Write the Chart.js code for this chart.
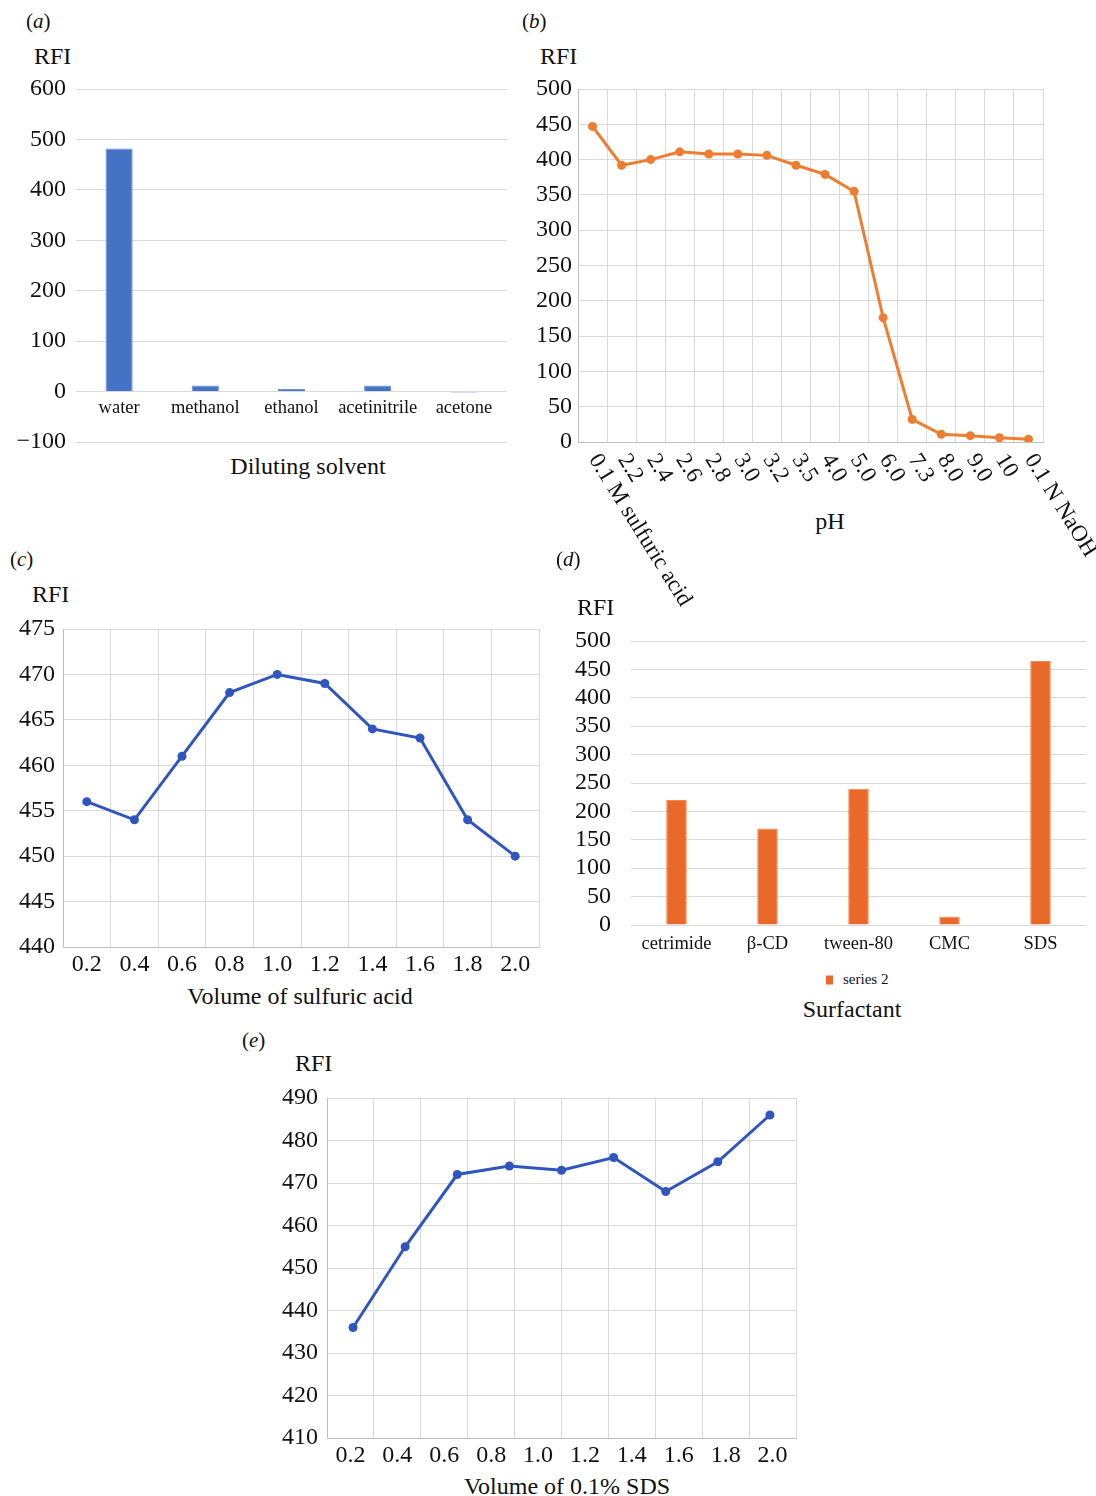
<!DOCTYPE html>
<html>
<head>
<meta charset="utf-8">
<script src="https://cdn.jsdelivr.net/npm/chart.js@4.4.1/dist/chart.umd.min.js"></script>
<style>
  html, body { margin: 0; padding: 0; background: #fff; width: 1096px; height: 1496px; overflow: hidden; }
  body { position: relative; font-family: "Liberation Serif", "Times New Roman", serif; color: #111; }
  canvas { position: absolute; display: block; }
  .t { position: absolute; white-space: nowrap; line-height: 1; transform: translateY(-50%); }
  .mid { transform: translate(-50%, -50%); }
  .panel { font-size: 21px; }
  .rfi { font-size: 24px; }
  .ttl { font-size: 24px; }
  .legend { position: absolute; font-size: 15px; line-height: 1; white-space: nowrap; transform: translateY(-50%); }
  .legend i { display: inline-block; width: 7px; height: 9px; background: #E8692A; margin-right: 10px; vertical-align: -1px; }
</style>
</head>
<body>

<div class="t panel" style="left:26px; top:21px;">(<i>a</i>)</div>
<div class="t rfi" style="left:34px; top:56px;">RFI</div>
<div class="t ttl mid" style="left:308px; top:466px;">Diluting solvent</div>
<canvas id="chartA" width="520" height="407" style="left:0px; top:60px;"></canvas>

<div class="t panel" style="left:522px; top:21px;">(<i>b</i>)</div>
<div class="t rfi" style="left:540px; top:56px;">RFI</div>
<div class="t ttl mid" style="left:830px; top:521px;">pH</div>
<canvas id="chartB" width="571" height="560" style="left:525px; top:60px;"></canvas>

<div class="t panel" style="left:10px; top:559px;">(<i>c</i>)</div>
<div class="t rfi" style="left:32px; top:594px;">RFI</div>
<div class="t ttl mid" style="left:300px; top:996px;">Volume of sulfuric acid</div>
<canvas id="chartC" width="550" height="380" style="left:0px; top:600px;"></canvas>

<div class="t panel" style="left:556px; top:559px;">(<i>d</i>)</div>
<div class="t rfi" style="left:577px; top:607px;">RFI</div>
<div class="legend" id="legendD" style="left:826px; top:979px;"><i></i><span></span></div>
<div class="t ttl mid" style="left:852px; top:1009px;">Surfactant</div>
<canvas id="chartD" width="541" height="355" style="left:555px; top:606px;"></canvas>

<div class="t panel" style="left:242px; top:1040px;">(<i>e</i>)</div>
<div class="t rfi" style="left:295px; top:1063px;">RFI</div>
<div class="t ttl mid" style="left:567px; top:1486px;">Volume of 0.1% SDS</div>
<canvas id="chartE" width="570" height="396" style="left:240px; top:1074px;"></canvas>

<script>
// ---- data ----
const solvents = ['water', 'methanol', 'ethanol', 'acetinitrile', 'acetone'];
const solventRFI = [482, 12, 5, 12, -2];

const phLabels = ['0.1 M sulfuric acid', '2.2', '2.4', '2.6', '2.8', '3.0', '3.2', '3.5',
                  '4.0', '5.0', '6.0', '7.3', '8.0', '9.0', '10', '0.1 N NaOH'];
const phRFI = [447, 392, 400, 411, 408, 408, 406, 392, 379, 355, 176, 32, 11, 9, 6, 4];

const acidVolumes = ['0.2', '0.4', '0.6', '0.8', '1.0', '1.2', '1.4', '1.6', '1.8', '2.0'];
const acidRFI = [456, 454, 461, 468, 470, 469, 464, 463, 454, 450];

const surfactants = ['cetrimide', 'β-CD', 'tween-80', 'CMC', 'SDS'];
const surfactantRFI = [220, 170, 240, 15, 465];

const sdsVolumes = ['0.2', '0.4', '0.6', '0.8', '1.0', '1.2', '1.4', '1.6', '1.8', '2.0'];
const sdsRFI = [436, 455, 472, 474, 473, 476, 468, 475, 486];
const sdsRuns = ['1', '2', '3', '4', '5', '6', '7', '8', '9'];

// ---- shared styling ----
const SERIF = '"Liberation Serif", "Times New Roman", serif';
const INK = '#111111';
const GRID = '#d9d9d9';
const AXIS = '#bfbfbf';
const BLUE_BAR = '#4472C4';
const ORANGE_LINE = '#ED7D31';
const ORANGE_BAR = '#E8692A';
const BLUE_LINE = '#2F55BF';

Chart.defaults.font.family = SERIF;
Chart.defaults.color = INK;
Chart.defaults.animation = false;
Chart.defaults.responsive = false;
Chart.defaults.plugins.legend.display = false;
Chart.defaults.plugins.tooltip.enabled = false;

const fixWidth = w => scale => { scale.width = w; };
const fixHeight = h => scale => { scale.height = h; };
const minusSign = v => String(v).replace('-', '\u2212');

// category names sitting just under the zero line
const zeroLineLabels = {
  id: 'zeroLineLabels',
  afterDraw(chart) {
    const { ctx, scales: { x, y } } = chart;
    const base = y.getPixelForValue(0);
    ctx.save();
    ctx.font = '18.5px ' + SERIF;
    ctx.fillStyle = INK;
    ctx.textAlign = 'center';
    ctx.textBaseline = 'middle';
    chart.data.labels.forEach((lab, i) => ctx.fillText(lab, x.getPixelForValue(i), base + 17));
    ctx.restore();
  }
};

// category names slanting down to the right from each tick
const slantedLabels = {
  id: 'slantedLabels',
  afterDraw(chart) {
    const { ctx, chartArea, scales: { x } } = chart;
    ctx.save();
    ctx.font = '23px ' + SERIF;
    ctx.fillStyle = INK;
    ctx.textAlign = 'left';
    ctx.textBaseline = 'middle';
    chart.data.labels.forEach((lab, i) => {
      ctx.save();
      ctx.translate(x.getPixelForValue(i) + 1, chartArea.bottom + 14);
      ctx.rotate(58 * Math.PI / 180);
      ctx.fillText(lab, 0, 0);
      ctx.restore();
    });
    ctx.restore();
  }
};

const yTicks = (step, pad) => ({ stepSize: step, padding: pad, autoSkip: false, font: { size: 24 }, color: INK, callback: minusSign });

// (a) diluting solvent
new Chart(document.getElementById('chartA'), {
  type: 'bar',
  data: {
    labels: solvents,
    datasets: [{ label: 'RFI', data: solventRFI, backgroundColor: BLUE_BAR, borderColor: '#6a90d8', borderWidth: 1,
                 categoryPercentage: 0.5, barPercentage: 0.63 }]
  },
  options: {
    layout: { padding: { left: 0, right: 13, top: 29, bottom: 25 } },
    scales: {
      x: { display: false },
      y: { min: -100, max: 600, ticks: yTicks(100, 10),
           grid: { color: GRID, drawTicks: false }, border: { display: false },
           afterFit: fixWidth(76) }
    }
  },
  plugins: [zeroLineLabels]
});

// (b) pH
new Chart(document.getElementById('chartB'), {
  type: 'line',
  data: {
    labels: phLabels,
    datasets: [{ label: 'RFI', data: phRFI, borderColor: ORANGE_LINE, backgroundColor: ORANGE_LINE,
                 borderWidth: 3, pointRadius: 4.5, pointBorderWidth: 0, tension: 0 }]
  },
  options: {
    layout: { padding: { left: 0, right: 53, top: 29, bottom: 0 } },
    scales: {
      x: { offset: true, ticks: { display: false },
           grid: { offset: true, color: GRID, drawTicks: false }, border: { color: AXIS },
           afterFit: fixHeight(178) },
      y: { min: 0, max: 500, ticks: yTicks(50, 6),
           grid: { color: GRID, drawTicks: false }, border: { color: AXIS },
           afterFit: fixWidth(53) }
    }
  },
  plugins: [slantedLabels]
});

// (c) volume of sulfuric acid
new Chart(document.getElementById('chartC'), {
  type: 'line',
  data: {
    labels: acidVolumes,
    datasets: [{ label: 'RFI', data: acidRFI, borderColor: BLUE_LINE, backgroundColor: BLUE_LINE,
                 borderWidth: 3, pointRadius: 4.5, pointBorderWidth: 0, tension: 0 }]
  },
  options: {
    layout: { padding: { left: 0, right: 11, top: 29, bottom: 0 } },
    scales: {
      x: { offset: true, ticks: { padding: 3, font: { size: 24 }, color: INK, autoSkip: false, maxRotation: 0 },
           grid: { offset: true, color: GRID, drawTicks: false }, border: { color: AXIS },
           afterFit: fixHeight(33) },
      y: { min: 440, max: 475, ticks: yTicks(5, 8),
           grid: { color: GRID, drawTicks: false }, border: { color: AXIS },
           afterFit: fixWidth(63) }
    }
  }
});

// (d) surfactant
const chartD = new Chart(document.getElementById('chartD'), {
  type: 'bar',
  data: {
    labels: surfactants,
    datasets: [{ label: 'series 2', data: surfactantRFI, backgroundColor: ORANGE_BAR, borderColor: '#f08a55', borderWidth: 1,
                 categoryPercentage: 1, barPercentage: 0.226 }]
  },
  options: {
    layout: { padding: { left: 0, right: 10, top: 35, bottom: 0 } },
    scales: {
      x: { ticks: { padding: 8, font: { size: 18.5 }, color: INK, autoSkip: false, maxRotation: 0 },
           grid: { display: false, drawTicks: false }, border: { display: false },
           afterFit: fixHeight(36) },
      y: { min: 0, max: 500, ticks: yTicks(50, 20),
           grid: { color: GRID, drawTicks: false }, border: { display: false },
           afterFit: fixWidth(76) }
    }
  }
});
document.querySelector('#legendD span').textContent = chartD.data.datasets[0].label;

// (e) volume of 0.1% SDS
new Chart(document.getElementById('chartE'), {
  type: 'line',
  data: {
    labels: sdsVolumes,
    datasets: [{ label: 'RFI', data: sdsRFI, xAxisID: 'runs', borderColor: BLUE_LINE, backgroundColor: BLUE_LINE,
                 borderWidth: 3, pointRadius: 4.5, pointBorderWidth: 0, tension: 0 }]
  },
  options: {
    layout: { padding: { left: 0, right: 14, top: 24, bottom: 0 } },
    scales: {
      x: { type: 'category', offset: true,
           ticks: { padding: 3, font: { size: 24 }, color: INK, autoSkip: false, maxRotation: 0 },
           grid: { offset: true, color: GRID, drawTicks: false }, border: { color: AXIS },
           afterFit: fixHeight(32) },
      runs: { type: 'category', labels: sdsRuns, offset: true, display: false, position: 'bottom' },
      y: { min: 410, max: 490, ticks: yTicks(10, 9),
           grid: { color: GRID, drawTicks: false }, border: { color: AXIS },
           afterFit: fixWidth(87) }
    }
  }
});
</script>
</body>
</html>
